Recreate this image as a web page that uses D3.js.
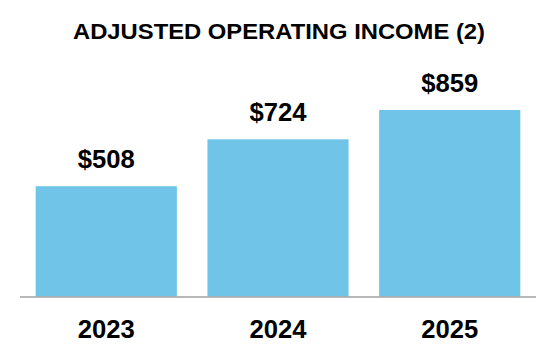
<!DOCTYPE html>
<html>
<head>
<meta charset="utf-8">
<script src="https://cdn.jsdelivr.net/npm/d3@7"></script>
<style>
  body { margin: 0; background: #fff; }
  text { font-family: "Liberation Sans", Arial, sans-serif; font-weight: bold; fill: #000; }
</style>
</head>
<body>
<div id="chart"></div>
<script>
// chart data
var years = ["2023", "2024", "2025"];
var values = [508, 724, 859];
var valueLabels = ["$508", "$724", "$859"];
var title = "ADJUSTED OPERATING INCOME (2)";

var W = 556, H = 364;
var baseY = 296.5;

var svg = d3.select("#chart").append("svg")
    .attr("width", W)
    .attr("height", H);

// title
svg.append("text")
    .attr("x", 279)
    .attr("y", 39)
    .attr("text-anchor", "middle")
    .attr("font-size", "21.5px")
    .attr("textLength", 412)
    .attr("lengthAdjust", "spacingAndGlyphs")
    .text(title);

var x = d3.scaleBand()
    .domain(years)
    .range([35.7, 520.3])
    .paddingInner(0.178)
    .paddingOuter(0);

var y = d3.scaleLinear()
    .domain([0, 859])
    .range([baseY, 110]);

var data = years.map(function(yr, i) {
    return {year: yr, value: values[i], label: valueLabels[i]};
});

// bars
svg.append("g")
    .selectAll("rect")
    .data(data)
    .join("rect")
    .attr("x", d => x(d.year))
    .attr("y", d => y(d.value))
    .attr("width", x.bandwidth())
    .attr("height", d => baseY - y(d.value))
    .attr("fill", "#70c4e8");

// baseline
svg.append("line")
    .attr("x1", 20).attr("x2", 536)
    .attr("y1", baseY + 0.5).attr("y2", baseY + 0.5)
    .attr("stroke", "#a0a0a0")
    .attr("stroke-width", 1.5);

// year labels
svg.append("g")
    .selectAll("text")
    .data(data)
    .join("text")
    .attr("x", d => x(d.year) + x.bandwidth() / 2)
    .attr("y", 337.5)
    .attr("text-anchor", "middle")
    .attr("font-size", "25.5px")
    .attr("textLength", 57)
    .attr("lengthAdjust", "spacingAndGlyphs")
    .text(d => d.year);

// value labels
svg.append("g")
    .selectAll("text")
    .data(data)
    .join("text")
    .attr("x", d => x(d.year) + x.bandwidth() / 2)
    .attr("y", d => y(d.value) - 18)
    .attr("text-anchor", "middle")
    .attr("font-size", "25.5px")
    .attr("textLength", 57)
    .attr("lengthAdjust", "spacingAndGlyphs")
    .text(d => d.label);
</script>
</body>
</html>
